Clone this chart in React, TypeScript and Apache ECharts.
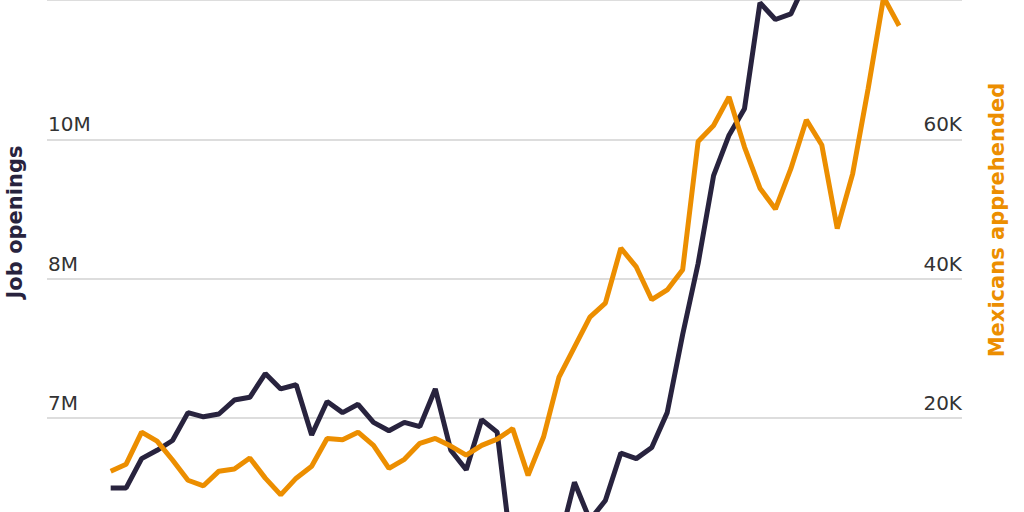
import { useEffect, useRef } from 'react';
import * as echarts from 'echarts';

// monthly points, job openings in millions (left axis)
const jobOpenings = [
  6.5, 6.5, 6.71, 6.77, 6.84, 7.04, 7.01, 7.03, 7.13, 7.15,
  7.32, 7.21, 7.24, 6.88, 7.12, 7.04, 7.1, 6.97, 6.91, 6.97,
  6.94, 7.21, 6.77, 6.63, 6.99, 6.9, 5.98, 5.84, 5.91, 6.1,
  6.54, 6.27, 6.41, 6.75, 6.71, 6.79, 7.04, 7.6, 8.11, 8.74,
  9.03, 9.22, 9.98, 9.86, 9.9, 10.14, 10.18, 10.25, 10.2, 10.3,
  10.35, 10.3,
];

// Mexicans apprehended, thousands (right axis)
const apprehended = [
  12.4, 13.4, 18.0, 16.7, 14.0, 11.1, 10.3, 12.4, 12.7, 14.3,
  11.4, 9.0, 11.4, 13.1, 17.1, 16.9, 18.0, 16.1, 12.8, 14.1,
  16.4, 17.1, 16.0, 14.7, 16.1, 17.0, 18.5, 11.8, 17.3, 25.9,
  30.2, 34.5, 36.5, 44.4, 41.7, 37.0, 38.4, 41.3, 59.7, 62.0,
  66.1, 58.9, 53.0, 50.0, 55.8, 62.8, 59.2, 47.2, 55.1, 67.3,
  80.4, 76.3,
];

const jobTickLabels: Record<number, string> = { 7: '7M', 8: '8M', 9: '10M' };
const apprehendedTicks = [20, 40, 60];

const DARK = '#28233e';
const ORANGE = '#ec8e00';

export default function App() {
  const ref = useRef<HTMLDivElement>(null);

  useEffect(() => {
    if (!ref.current) return;
    const chart = echarts.init(ref.current, null, { renderer: 'svg' });
    const font = 'DejaVu Sans';
    chart.setOption({
      animation: false,
      grid: { left: 47, right: 62, top: 60.6, bottom: 103 },
      xAxis: {
        type: 'value',
        min: -4.12,
        max: 55.07,
        show: false,
        splitLine: { show: false },
      },
      yAxis: [
        {
          type: 'value',
          min: 5,
          max: 11,
          interval: 1,
          axisLine: { show: false },
          axisTick: { show: false },
          splitLine: { show: false },
          axisLabel: {
            inside: true,
            margin: 1,
            verticalAlign: 'bottom',
            fontFamily: font,
            fontSize: 20,
            color: '#333',
            padding: [0, 0, 5, 0],
            formatter: (v: number) => jobTickLabels[v] || '',
          },
        },
        {
          type: 'value',
          min: -20,
          max: 100,
          interval: 20,
          position: 'right',
          axisLine: { show: false },
          axisTick: { show: false },
          splitLine: { show: true, lineStyle: { color: '#d2d2d2', width: 1.5 } },
          axisLabel: {
            inside: true,
            margin: 0,
            verticalAlign: 'bottom',
            fontFamily: font,
            fontSize: 20,
            color: '#333',
            padding: [0, 0, 5, 0],
            formatter: (v: number) => (apprehendedTicks.includes(v) ? v + 'K' : ''),
          },
        },
      ],
      graphic: [
        {
          type: 'text',
          x: 15,
          y: 222 + 200,
          rotation: Math.PI / 2,
          style: {
            text: 'Job openings',
            font: `bold 21px "${font}"`,
            fill: DARK,
            align: 'center',
            verticalAlign: 'middle',
          },
        },
        {
          type: 'text',
          x: 997,
          y: 220 + 200,
          rotation: Math.PI / 2,
          style: {
            text: 'Mexicans apprehended',
            font: `bold 21px "${font}"`,
            fill: ORANGE,
            align: 'center',
            verticalAlign: 'middle',
          },
        },
      ],
      series: [
        {
          type: 'line',
          yAxisIndex: 0,
          data: jobOpenings.map((v, i) => [i, v]),
          showSymbol: false,
          lineStyle: { color: DARK, width: 5 },
          z: 2,
        },
        {
          type: 'line',
          yAxisIndex: 1,
          data: apprehended.map((v, i) => [i, v]),
          showSymbol: false,
          lineStyle: { color: ORANGE, width: 5 },
          z: 3,
        },
      ],
    });
    return () => chart.dispose();
  }, []);

  return (
    <div style={{ position: 'fixed', inset: 0, overflow: 'hidden', background: '#fff' }}>
      <div ref={ref} style={{ position: 'absolute', left: 0, top: -200, width: 1024, height: 1000 }} />
    </div>
  );
}
